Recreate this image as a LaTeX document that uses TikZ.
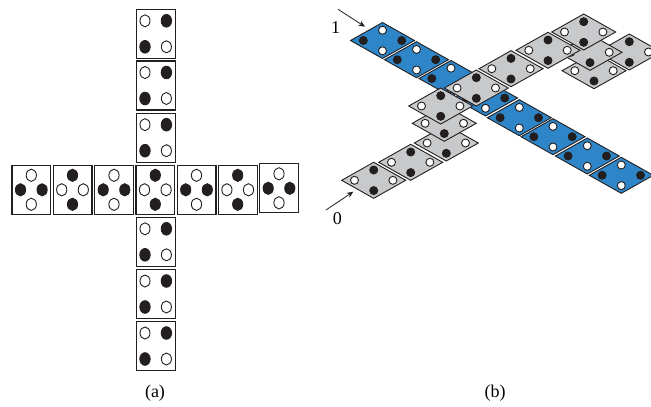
\documentclass[tikz,border=0pt]{standalone}
\usepackage{fontspec}
\usetikzlibrary{arrows.meta}
\setmainfont{Liberation Serif}
\definecolor{tileblue}{HTML}{2E86C8}
\definecolor{tilegray}{HTML}{C8C9CB}
\definecolor{pipblack}{HTML}{231F20}
\tikzset{
	whitepip/.style={draw=pipblack, fill=white, line width=0.9pt},
	blackpip/.style={draw=pipblack, fill=pipblack, line width=0.9pt},
	cardbox/.style={draw=pipblack, fill=white, line width=1.2pt},
	flatbox/.style={draw=pipblack, line width=0.9pt, line join=miter},
	capfont/.style={font=\fontsize{18}{20}\selectfont, inner sep=0pt},
	pics/colcard/.style={code={
		\draw[cardbox] (-19.4,-24.5) rectangle (19.4,24.5);
		\draw[whitepip] (-10.7,-13) circle[x radius=5, y radius=6];
		\draw[blackpip] (10.7,-13) circle[x radius=5.2, y radius=6.3];
		\draw[blackpip] (-10.7,13) circle[x radius=5.2, y radius=6.3];
		\draw[whitepip] (10.7,13) circle[x radius=5, y radius=6];
	}},
	pics/crosscard/.style 2 args={code={
		\draw[cardbox] (-19.4,-24.5) rectangle (19.4,24.5);
		\draw[#1] (0,-14.5) circle[x radius=5.1, y radius=6.1];
		\draw[#1] (0,14.5) circle[x radius=5.1, y radius=6.1];
		\draw[#2] (-10.8,0) circle[x radius=5.1, y radius=6.1];
		\draw[#2] (10.8,0) circle[x radius=5.1, y radius=6.1];
	}},
	pics/flat/.style n args={3}{code={
		\draw[flatbox, fill=#1] (-32,0) -- (0,-18) -- (32,0) -- (0,18) -- cycle;
		\draw[#2] (0,-10.3) circle (4);
		\draw[#2] (0,10.3) circle (4);
		\draw[#3] (-19.2,0) circle (4);
		\draw[#3] (19.2,0) circle (4);
	}},
}
\begin{document}
\begin{tikzpicture}[x=1pt, y=-1pt, >={Stealth[length=6.5pt, width=5.5pt]}]
	\useasboundingbox (0,0) rectangle (651,407);
	\clip (0,0) rectangle (651,407);
	% 左图：十字形排列
	\begin{scope}
		\pic at (155.7,33.8) {colcard};
		\pic at (155.7,85.5) {colcard};
		\pic at (155.7,137.7) {colcard};
		\pic at (155.7,241.8) {colcard};
		\pic at (155.7,294) {colcard};
		\pic at (155.7,346) {colcard};
		% 中间一行，黑白交替
		\pic at (31.3,189.8) {crosscard={whitepip}{blackpip}};
		\pic at (72.5,189.8) {crosscard={blackpip}{whitepip}};
		\pic at (114,189.8) {crosscard={whitepip}{blackpip}};
		\pic at (155.3,189.8) {crosscard={blackpip}{whitepip}};
		\pic at (196.5,189.8) {crosscard={whitepip}{blackpip}};
		\pic at (237.7,189.8) {crosscard={blackpip}{whitepip}};
		\pic at (279,188.3) {crosscard={whitepip}{blackpip}};
		\node[capfont] (capa) at (155,393) {(a)};
	\end{scope}
	% 右图：蓝色一条在下
	\begin{scope}
		\pic at (382.5,40.5) {flat={tileblue}{whitepip}{blackpip}};
		\pic at (416.5,59.7) {flat={tileblue}{whitepip}{blackpip}};
		\pic at (451,78.5) {flat={tileblue}{whitepip}{blackpip}};
		\pic at (485.5,98) {flat={tileblue}{whitepip}{blackpip}};
		\pic at (519.3,117.7) {flat={tileblue}{whitepip}{blackpip}};
		\pic at (553,136.7) {flat={tileblue}{whitepip}{blackpip}};
		\pic at (587.3,156) {flat={tileblue}{whitepip}{blackpip}};
		\pic at (621.3,175.3) {flat={tileblue}{whitepip}{blackpip}};
		% 灰色一条，从左下到右上
		\pic at (373.7,180.3) {flat={tilegray}{blackpip}{whitepip}};
		\pic at (410.7,162.3) {flat={tilegray}{blackpip}{whitepip}};
		\pic at (446.3,143) {flat={tilegray}{blackpip}{whitepip}};
		\pic at (444.3,123.3) {flat={tilegray}{blackpip}{whitepip}};
		\pic at (476.3,88) {flat={tilegray}{blackpip}{whitepip}};
		\pic at (440.7,106) {flat={tilegray}{blackpip}{whitepip}};
		\pic at (511,68.7) {flat={tilegray}{blackpip}{whitepip}};
		\pic at (594,70.7) {flat={tilegray}{blackpip}{whitepip}};
		\pic at (629.3,52) {flat={tilegray}{blackpip}{whitepip}};
		\pic at (590,52.3) {flat={tilegray}{blackpip}{whitepip}};
		\pic at (548,50.3) {flat={tilegray}{blackpip}{whitepip}};
		\pic at (583.7,32) {flat={tilegray}{blackpip}{whitepip}};
		% 两个入口箭头
		\node[capfont] (one) at (335.7,27.3) {1};
		\node[capfont] (zero) at (337.3,218.3) {0};
		\coordinate (onefrom) at (338,9.3);
		\coordinate (oneto) at (365,26.7);
		\coordinate (zerofrom) at (326,210);
		\coordinate (zeroto) at (353.3,191.7);
		\draw[->, pipblack, line width=0.8pt] (onefrom) -- (oneto);
		\draw[->, pipblack, line width=0.8pt] (zerofrom) -- (zeroto);
		\node[capfont] (capb) at (495,393) {(b)};
	\end{scope}
\end{tikzpicture}
\end{document}
